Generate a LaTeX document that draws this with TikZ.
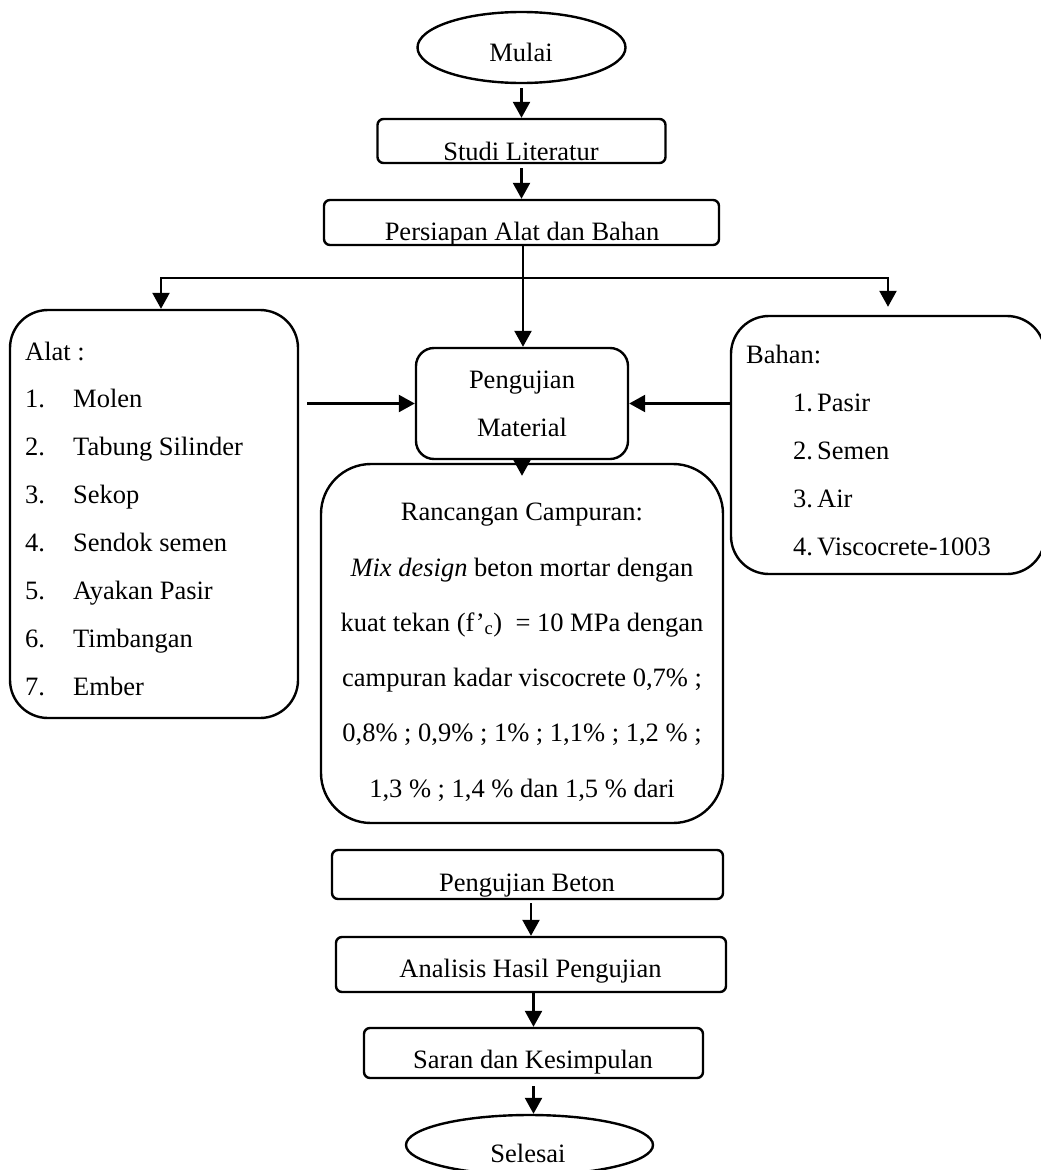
\documentclass[tikz,border=0pt]{standalone}
\usepackage{fontspec}
\setmainfont{Liberation Serif}
\usetikzlibrary{arrows.meta,shapes.geometric,calc}
\newcommand\mainsz{\fontsize{26.5}{32}\selectfont}
\tikzset{
  shp/.style={draw, line width=2.4pt, inner sep=0pt},
  boxs/.style={shp, rectangle, rounded corners=6pt},
  oval/.style={shp, ellipse},
  txt/.style={anchor=base, inner sep=0pt, font=\mainsz},
  ltxt/.style={anchor=base west, inner sep=0pt, font=\mainsz},
  arr/.style={-{Triangle[length=16pt,width=17pt]}, line width=2.4pt},
}
\begin{document}
\begin{tikzpicture}[x=1pt,y=-1pt]
\useasboundingbox (0,0) rectangle (1041,1170);
% shapes
\node[oval, minimum width=208pt, minimum height=71pt] (mulai) at (521.5,47.5) {};
\node[boxs, minimum width=288pt, minimum height=44pt] (studi) at (521.5,141) {};
\node[boxs, minimum width=395pt, minimum height=45pt] (pers) at (521.5,222.5) {};
\node[shp, rounded corners=38pt, minimum width=288pt, minimum height=408pt] (alat) at (154,514) {};
\node[shp, rounded corners=18pt, minimum width=212pt, minimum height=111pt] (pm) at (522,403.5) {};
\node[shp, rounded corners=50pt, minimum width=402pt, minimum height=359pt] (ranc) at (522,643.5) {};
\node[shp, rounded corners=38pt, minimum width=314pt, minimum height=258pt] (bahan) at (888,445) {};
\node[boxs, minimum width=391pt, minimum height=49pt] (beton) at (527.5,874.5) {};
\node[boxs, minimum width=390pt, minimum height=55pt] (anal) at (531,964.5) {};
\node[boxs, minimum width=339pt, minimum height=50pt] (saran) at (533.5,1053) {};
\node[oval, minimum width=247pt, minimum height=60pt] (selesai) at (529.5,1145) {};
% texts
\node[txt] (tmulai) at (521,61) {Mulai};
\node[txt] (tstudi) at (521,160) {Studi Literatur};
\node[txt] (tpers) at (522,240) {Persiapan Alat dan Bahan};
\node[txt] (tpm1) at (522,388) {Pengujian};
\node[txt] (tpm2) at (522,436) {Material};
\node[txt] (tr1) at (522,520) {Rancangan Campuran:};
\node[txt] (tr2) at (522,576) {\textit{Mix design} beton mortar dengan};
\node[txt] (tr3) at (522,631) {kuat tekan (f’\textsubscript{c})\ \ = 10 MPa dengan};
\node[txt] (tr4) at (522,686) {campuran kadar viscocrete 0,7\% ;};
\node[txt] (tr5) at (522,741) {0,8\% ; 0,9\% ; 1\% ; 1,1\% ; 1,2 \% ;};
\node[txt] (tr6) at (522,797) {1,3 \% ; 1,4 \% dan 1,5 \% dari};
\node[txt] (tbeton) at (527,891) {Pengujian Beton};
\node[txt] (tanal) at (530.5,977) {Analisis Hasil Pengujian};
\node[txt] (tsaran) at (533,1068) {Saran dan Kesimpulan};
\node[txt] (tsel) at (528,1162) {Selesai};
\node[ltxt] (talat) at (25,360) {Alat :};
\foreach \i/\t in {1/Molen,2/Tabung Silinder,3/Sekop,4/Sendok semen,5/Ayakan Pasir,6/Timbangan,7/Ember}{
  \node[ltxt] (an\i) at (25,{407+48*(\i-1)}) {\i.};
  \node[ltxt] (at\i) at (73,{407+48*(\i-1)}) {\t};
}
\node[ltxt] (tbahan) at (746,363) {Bahan:};
\foreach \i/\t in {1/Pasir,2/Semen,3/Air,4/Viscocrete-1003}{
  \node[ltxt] (bn\i) at (793,{411+48*(\i-1)}) {\i.};
  \node[ltxt] (bt\i) at (817,{411+48*(\i-1)}) {\t};
}
% connectors
\draw[arr, shorten <=4pt] (mulai.south) -- (studi.north);
\draw[arr, shorten <=4pt] (studi.south) -- (pers.north);
\coordinate (split) at ($(pers.south)+(1.5,32)$);
\draw[arr] ([xshift=1.5pt]pers.south) -- ([xshift=1pt]pm.north);
\draw[arr] (split) -| ([xshift=7pt]alat.north);
\draw[arr, shorten >=8pt] (split) -| (bahan.north);
\draw[arr] ($(alat.east |- pm.west)+(8,0)$) -- (pm.west);
\draw[arr] (bahan.west |- pm.east) -- (pm.east);
\draw[arr] (pm.south) -- ([yshift=-13pt]ranc.north);
\draw[arr, shorten <=3pt] (anal.north |- beton.south) -- (anal.north);
\draw[arr] (saran.north |- anal.south) -- (saran.north);
\draw[arr, shorten <=7pt] (saran.south) -- (saran.south |- selesai.north);
\end{tikzpicture}
\end{document}
